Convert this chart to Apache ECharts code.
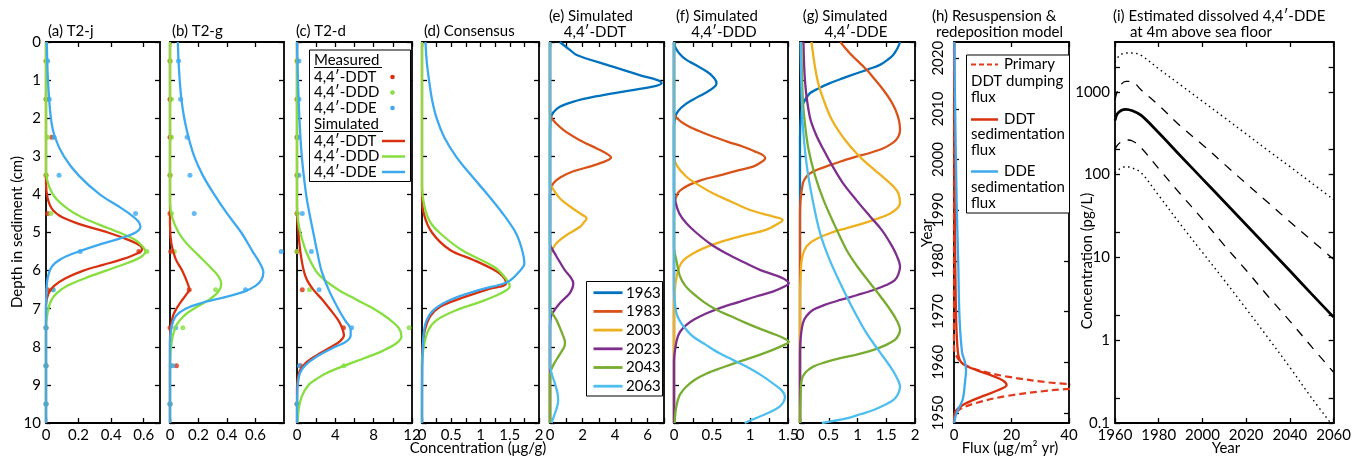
<!DOCTYPE html>
<html>
<head>
<meta charset="utf-8">
<title>DDT sediment profiles</title>
<script src="https://cdn.jsdelivr.net/npm/echarts@6/dist/echarts.min.js"></script>
<style>
html, body { margin: 0; padding: 0; background: #fff; }
#main { width: 1354px; height: 458px; }
</style>
</head>
<body>
<div id="main"></div>
<script>
// ---- tick values ----
var depthTicks = [0, 1, 2, 3, 4, 5, 6, 7, 8, 9, 10];
var ticksA = [0, 0.2, 0.4, 0.6], labelsA = [0, 0.2, 0.4, 0.6];
var ticksB = [0, 0.2, 0.4, 0.6], labelsB = [0, 0.2, 0.4, 0.6];
var ticksC = [0, 2, 4, 6, 8, 10, 12], labelsC = [0, 4, 8, 12];
var ticksD = [0, 0.25, 0.5, 0.75, 1, 1.25, 1.5, 1.75, 2], labelsD = [0, 0.5, 1, 1.5, 2];
var ticksE = [0, 1, 2, 3, 4, 5, 6, 7], labelsE = [0, 2, 4, 6];
var ticksF = [0, 0.25, 0.5, 0.75, 1, 1.25, 1.5], labelsF = [0, 0.5, 1, 1.5];
var ticksG = [0, 0.5, 1, 1.5, 2], labelsG = [0, 0.5, 1, 1.5, 2];
var ticksH = [0, 20, 40], labelsH = [0, 20, 40];
var yearTicksH = [1950, 1960, 1970, 1980, 1990, 2000, 2010, 2020];
var yearTicksI = [1960, 1980, 2000, 2020, 2040, 2060];
var concTicksI = [0.1, 0.2, 1, 2, 10, 20, 100, 200, 1000, 2000];
var concLabelsI = [0.1, 1, 10, 100, 1000];

// ---- measured profiles (depth midpoints, ug/g) ----
var measDepth = [0.5, 1.5, 2.5, 3.5, 4.5, 5.5, 6.5, 7.5, 8.5, 9.5];
var measA_DDT = [0, 0, 0.035, 0, 0.01, 0.57, 0.01, 0, 0, 0];
var measA_DDD = [0, 0, 0.01, 0, 0.03, 0.62, 0.04, 0, 0, 0];
var measA_DDE = [0.01, 0.02, 0.05, 0.08, 0.55, 0.21, 0.045, 0, 0, 0];
var measB_DDT = [0, 0, 0, 0, 0, 0.005, 0.135, 0, 0.045, 0];
var measB_DDD = [0, 0.01, 0.01, 0, 0.01, 0.03, 0.32, 0.09, 0.01, 0];
var measB_DDE = [0.06, 0.075, 0.12, 0.14, 0.17, 0.78, 0.53, 0.04, 0.02, 0];
var measC_DDT = [0, 0, 0, 0, 0, 0, 0.55, 4.85, 0.35, 0];
var measC_DDD = [0, 0, 0, 0, 0, 0, 1.3, 11.7, 4.9, 0];
var measC_DDE = [0.2, 0.2, 0.1, 0.2, 0.55, 1.5, 2.3, 5.7, 0.25, 0];

// ---- simulated profiles [depth cm, conc ug/g] ----
var simA_DDT = [[0,0],[3.7,0],[4.1,0.01],[4.4,0.04],[4.6,0.1],[4.8,0.22],[5.0,0.38],[5.2,0.51],[5.35,0.58],[5.45,0.59],[5.55,0.56],[5.7,0.47],[5.85,0.35],[6.0,0.23],[6.2,0.12],[6.4,0.05],[6.6,0.015],[6.9,0],[10,0]];
var simA_DDD = [[0,0],[3.4,0],[3.8,0.02],[4.1,0.06],[4.4,0.14],[4.6,0.22],[4.8,0.33],[5.0,0.45],[5.2,0.55],[5.4,0.6],[5.5,0.61],[5.65,0.58],[5.8,0.5],[6.0,0.37],[6.2,0.24],[6.4,0.13],[6.6,0.065],[6.8,0.03],[7.1,0.01],[7.5,0],[10,0]];
var simA_DDE = [[0,0.005],[1,0.012],[2,0.03],[2.5,0.055],[3,0.11],[3.5,0.2],[4,0.33],[4.3,0.44],[4.5,0.51],[4.7,0.565],[4.85,0.58],[5.0,0.55],[5.15,0.46],[5.3,0.34],[5.5,0.2],[5.7,0.09],[5.9,0.035],[6.2,0.01],[6.6,0.002],[7,0],[10,0]];
var simB_DDT = [[0,0],[4.8,0],[5.3,0.01],[5.7,0.04],[6.0,0.085],[6.3,0.12],[6.5,0.135],[6.6,0.12],[6.8,0.08],[7.0,0.045],[7.2,0.02],[7.5,0.005],[7.8,0],[10,0]];
var simB_DDD = [[0,0],[4.2,0],[4.6,0.015],[5.0,0.06],[5.3,0.12],[5.6,0.2],[5.9,0.28],[6.15,0.34],[6.35,0.36],[6.55,0.34],[6.75,0.28],[6.95,0.19],[7.15,0.11],[7.4,0.05],[7.7,0.02],[8.1,0.005],[8.5,0],[10,0]];
var simB_DDE = [[0,0.055],[0.5,0.06],[1,0.068],[1.5,0.08],[2,0.1],[2.5,0.13],[3,0.17],[3.5,0.23],[4,0.31],[4.5,0.4],[5,0.5],[5.5,0.58],[5.8,0.63],[6.05,0.655],[6.25,0.64],[6.4,0.6],[6.55,0.52],[6.7,0.38],[6.85,0.22],[7.0,0.11],[7.2,0.04],[7.5,0.01],[8,0],[10,0]];
var simC_DDT = [[0,0],[4.5,0],[5.0,0.15],[5.5,0.35],[6.0,0.7],[6.25,1.05],[6.5,1.7],[6.75,2.6],[7.0,3.4],[7.3,4.3],[7.5,4.7],[7.7,4.9],[7.85,4.5],[8.0,3.6],[8.2,2.2],[8.4,1.0],[8.6,0.35],[8.8,0.1],[9.1,0],[10,0]];
var simC_DDD = [[0,0],[4.3,0],[4.7,0.12],[5.0,0.35],[5.5,0.95],[6.0,1.95],[6.25,2.9],[6.5,4.3],[6.75,6.1],[7.0,8.0],[7.25,9.5],[7.5,10.6],[7.72,10.9],[7.9,10.4],[8.1,9.0],[8.3,7.0],[8.5,4.9],[8.7,3.0],[8.85,2.0],[9.0,1.2],[9.3,0.5],[9.6,0.2],[10,0.05]];
var simC_DDE = [[0,0],[1,0.1],[2,0.25],[3,0.5],[4,0.95],[4.5,1.3],[5,1.7],[5.5,2.1],[6,2.55],[6.5,3.3],[7,4.3],[7.3,5.0],[7.55,5.6],[7.7,5.6],[7.85,5.2],[8.0,4.0],[8.15,2.8],[8.3,1.8],[8.5,0.8],[8.7,0.3],[9.0,0.08],[9.4,0.02],[10,0]];
var simD_DDT = [[0,0],[4.0,0],[4.5,0.03],[5.0,0.17],[5.46,0.48],[5.72,0.88],[5.98,1.23],[6.15,1.38],[6.33,1.44],[6.5,1.11],[6.73,0.66],[6.95,0.31],[7.2,0.14],[7.56,0.05],[8.0,0.01],[8.5,0],[10,0]];
var simD_DDD = [[0,0],[3.8,0],[4.3,0.04],[4.7,0.13],[5.02,0.31],[5.46,0.68],[5.9,1.23],[6.2,1.43],[6.42,1.5],[6.6,1.34],[6.82,1.0],[7.03,0.6],[7.3,0.25],[7.56,0.11],[8.0,0.03],[8.5,0],[10,0]];
var simD_DDE = [[0,0.06],[0.5,0.08],[1,0.12],[1.5,0.17],[2,0.25],[2.5,0.38],[3,0.58],[3.5,0.84],[4,1.12],[4.5,1.38],[5,1.6],[5.4,1.7],[5.81,1.75],[6.03,1.66],[6.3,1.46],[6.5,1.0],[6.77,0.48],[7.03,0.2],[7.3,0.08],[7.65,0.03],[8.5,0.005],[10,0]];

// ---- simulated future profiles, 4,4'-DDT (e), DDD (f), DDE (g) ----
var years = ['1963', '1983', '2003', '2023', '2043', '2063'];
var e1963 = [[0,0.6],[0.2,1.2],[0.34,1.64],[0.6,3.5],[0.87,5.5],[1.0,6.6],[1.08,6.85],[1.17,6.3],[1.3,4.5],[1.43,2.8],[1.57,1.4],[1.7,0.6],[1.85,0.2],[2.0,0.05],[2.3,0],[10,0]];
var e1983 = [[0,0],[1.8,0],[2.0,0.1],[2.3,0.8],[2.57,1.8],[2.8,2.9],[2.95,3.55],[3.03,3.75],[3.12,3.45],[3.25,2.6],[3.4,1.4],[3.55,0.65],[3.7,0.22],[3.85,0.05],[4.0,0],[10,0]];
var e2003 = [[0,0],[3.7,0],[3.8,0.1],[4.1,0.6],[4.37,1.4],[4.54,2.0],[4.63,2.25],[4.75,2.05],[4.85,1.85],[5.07,1.0],[5.2,0.6],[5.33,0.3],[5.55,0.05],[5.7,0],[10,0]];
var e2023 = [[0,0],[5.3,0],[5.37,0.05],[5.63,0.4],[5.98,0.9],[6.2,1.3],[6.33,1.43],[6.45,1.38],[6.6,1.2],[6.86,0.6],[7.12,0.15],[7.3,0.02],[7.5,0],[10,0]];
var e2043 = [[0,0],[7.0,0],[7.05,0.05],[7.3,0.4],[7.6,0.7],[7.8,0.88],[7.9,0.92],[8.0,0.88],[8.2,0.6],[8.48,0.2],[8.65,0.04],[8.8,0],[10,0]];
var e2063 = [[0,0],[8.5,0],[8.7,0.1],[8.96,0.3],[9.2,0.45],[9.4,0.5],[9.55,0.45],[9.75,0.3],[10,0.1]];
var f1963 = [[0,0],[0.15,0.02],[0.3,0.07],[0.45,0.15],[0.6,0.28],[0.8,0.45],[0.95,0.53],[1.08,0.56],[1.2,0.52],[1.35,0.4],[1.5,0.26],[1.65,0.14],[1.8,0.06],[1.95,0.02],[2.2,0],[10,0]];
var f1983 = [[0,0],[1.85,0],[2.0,0.04],[2.18,0.16],[2.33,0.32],[2.48,0.51],[2.62,0.71],[2.75,0.91],[2.87,1.06],[2.97,1.17],[3.05,1.2],[3.15,1.15],[3.27,1.04],[3.38,0.82],[3.5,0.6],[3.62,0.37],[3.75,0.2],[3.87,0.1],[3.97,0.05],[4.2,0.01],[4.5,0],[10,0]];
var f2003 = [[0,0],[3.0,0],[3.25,0.04],[3.53,0.16],[3.75,0.32],[3.97,0.51],[4.17,0.73],[4.37,0.95],[4.5,1.15],[4.58,1.3],[4.67,1.43],[4.78,1.36],[4.93,1.21],[5.07,0.93],[5.2,0.69],[5.37,0.44],[5.55,0.25],[5.72,0.13],[5.9,0.07],[6.33,0.02],[7,0],[10,0]];
var f2023 = [[0,0],[3.9,0],[4.2,0.02],[4.5,0.07],[4.75,0.16],[5.0,0.29],[5.3,0.48],[5.55,0.69],[5.78,0.92],[5.98,1.13],[6.1,1.3],[6.2,1.43],[6.33,1.51],[6.43,1.44],[6.55,1.3],[6.68,1.08],[6.82,0.86],[6.97,0.62],[7.12,0.43],[7.28,0.27],[7.43,0.16],[7.58,0.09],[7.73,0.05],[8.0,0.02],[8.4,0],[10,0]];
var f2043 = [[0,0],[5.4,0],[5.72,0.03],[6.16,0.08],[6.4,0.15],[6.6,0.25],[6.82,0.39],[7.03,0.56],[7.2,0.75],[7.38,0.95],[7.55,1.16],[7.69,1.35],[7.8,1.47],[7.87,1.51],[7.95,1.45],[8.08,1.3],[8.25,1.07],[8.39,0.86],[8.55,0.63],[8.7,0.43],[8.87,0.27],[9.05,0.16],[9.25,0.08],[9.4,0.05],[9.7,0.02],[10,0.01]];
var f2063 = [[0,0],[6.5,0],[6.8,0.01],[7.1,0.03],[7.3,0.07],[7.5,0.14],[7.73,0.25],[7.95,0.42],[8.17,0.6],[8.35,0.78],[8.52,0.95],[8.75,1.15],[8.96,1.3],[9.15,1.42],[9.31,1.46],[9.45,1.44],[9.57,1.39],[9.7,1.28],[9.83,1.13],[10,0.93]];
var g1963 = [[0,1.74],[0.15,1.7],[0.34,1.62],[0.47,1.52],[0.6,1.39],[0.71,1.2],[0.82,0.99],[0.95,0.75],[1.08,0.52],[1.22,0.32],[1.35,0.17],[1.6,0.06],[1.9,0.02],[2.5,0],[10,0]];
var g1983 = [[0,0.7],[0.3,0.87],[0.73,1.16],[1.0,1.31],[1.26,1.45],[1.52,1.57],[1.78,1.66],[2.05,1.72],[2.31,1.74],[2.45,1.72],[2.57,1.67],[2.68,1.58],[2.79,1.45],[2.9,1.24],[3.0,0.99],[3.12,0.74],[3.23,0.52],[3.34,0.32],[3.45,0.17],[3.58,0.09],[3.71,0.05],[4.15,0.01],[4.6,0],[10,0]];
var g2003 = [[0,0.2],[0.65,0.26],[1.1,0.32],[1.52,0.41],[2.0,0.54],[2.4,0.7],[2.75,0.88],[3.1,1.1],[3.36,1.3],[3.62,1.5],[3.8,1.63],[3.97,1.71],[4.23,1.74],[4.38,1.68],[4.5,1.57],[4.63,1.36],[4.76,1.1],[4.89,0.8],[5.02,0.52],[5.15,0.31],[5.28,0.17],[5.45,0.08],[5.72,0.03],[6.2,0.01],[6.6,0],[10,0]];
var g2023 = [[0,0.06],[1.08,0.09],[1.96,0.17],[2.4,0.27],[2.83,0.41],[3.27,0.57],[3.71,0.75],[4.15,0.98],[4.58,1.22],[4.93,1.42],[5.28,1.57],[5.6,1.68],[5.9,1.74],[6.1,1.71],[6.25,1.65],[6.38,1.5],[6.51,1.28],[6.64,1.0],[6.77,0.7],[6.9,0.43],[7.03,0.23],[7.2,0.11],[7.38,0.05],[7.8,0.01],[8.3,0],[10,0]];
var g2043 = [[0,0.02],[1.52,0.05],[2.2,0.09],[2.83,0.15],[3.5,0.26],[4.15,0.41],[4.8,0.6],[5.46,0.81],[5.9,1.0],[6.33,1.22],[6.7,1.41],[7.03,1.57],[7.3,1.68],[7.56,1.74],[7.7,1.71],[7.82,1.65],[7.95,1.5],[8.08,1.28],[8.2,1.0],[8.3,0.7],[8.41,0.43],[8.52,0.23],[8.68,0.09],[8.87,0.03],[9.3,0.01],[10,0]];
var g2063 = [[0,0.01],[1.52,0.03],[2.4,0.06],[3.27,0.12],[4.15,0.22],[5.02,0.35],[5.7,0.51],[6.33,0.7],[7.0,0.92],[7.65,1.16],[8.1,1.37],[8.52,1.57],[8.8,1.68],[9.05,1.74],[9.25,1.7],[9.4,1.62],[9.53,1.47],[9.66,1.28],[9.77,1.05],[9.88,0.81],[10,0.38]];

// ---- (h) fluxes [year, ug/m2 yr] ----
var hDumping = [[1948,0],[1949.4,0.3],[1950.7,2],[1952,8],[1953.3,18],[1954.4,33],[1955.2,48],[1956.0,33],[1957.2,18],[1958.2,10],[1959,5.6],[1960,2.5],[1961.7,0.4],[1963,0],[2023.2,0]];
var hDDTsed = [[1948,0],[1950,0.3],[1951.6,3.2],[1953.3,10],[1954.5,15.5],[1955.5,18.3],[1956.4,17],[1957.4,13],[1958.4,8],[1959.2,4.5],[1960,2.5],[1961.4,1.5],[1966,0.9],[1972.5,0.6],[1985,0.35],[2000,0.2],[2023.2,0.1]];
var hDDEsed = [[1948,0],[1950,0.9],[1952.6,3.0],[1955.9,3.8],[1958.5,4.2],[1960,3.8],[1962,2.8],[1969,1.9],[1979,1.5],[1992,0.9],[2012,0.35],[2023.2,0.1]];

// ---- (i) dissolved DDE, pg/L ----
var iYears     = [1960, 1961, 1963, 1965, 1968, 1972, 1980, 1990, 2000, 2010, 2020, 2030, 2040, 2050, 2060];
var iMedian    = [450, 540, 600, 615, 590, 520, 320, 168, 89, 47, 24.8, 13.1, 6.9, 3.6, 1.9];
var iUpper68   = [800, 1000, 1250, 1340, 1320, 1050, 690, 385, 230, 134, 78, 46, 27, 16, 9.5];
var iLower68   = [200, 225, 250, 262, 255, 210, 118, 58, 29, 14, 7, 3.4, 1.7, 0.83, 0.41];
var iUpper95   = [2300, 2550, 2850, 2950, 2950, 2750, 1900, 1210, 770, 490, 310, 196, 125, 79, 50];
var iLower95   = [105, 112, 120, 125, 120, 105, 56, 25, 11.5, 5.3, 2.4, 1.07, 0.47, 0.2, 0.09];

var FONT = 'Lato, "Noto Sans", sans-serif';
var FS = 15;
var RED = '#D9310F', GREEN = '#86DE3F', BLUE = '#3DA9EF';
var YEAR_COLORS = ['#0072BD', '#D95319', '#EDB120', '#7E2F8E', '#77AC30', '#4DBEEE'];

var chart = echarts.init(document.getElementById('main'));

var panels = [
  { left: 46,   width: 114, x: [0, 0.7],   ticks: ticksA, labels: labelsA },
  { left: 170,  width: 114, x: [0, 0.8],   ticks: ticksB, labels: labelsB },
  { left: 297,  width: 115, x: [0, 12],    ticks: ticksC, labels: labelsC },
  { left: 422,  width: 117, x: [0, 2],     ticks: ticksD, labels: labelsD },
  { left: 550,  width: 114, x: [0, 7],     ticks: ticksE, labels: labelsE },
  { left: 674,  width: 114, x: [0, 1.5],   ticks: ticksF, labels: labelsF },
  { left: 800,  width: 115, x: [0, 2],     ticks: ticksG, labels: labelsG },
  { left: 954,  width: 115, x: [0, 40],    ticks: ticksH, labels: labelsH },
  { left: 1115, width: 225, x: [1960, 2060], ticks: yearTicksI, labels: yearTicksI }
];

function fmt(v) { return String(+(+v).toFixed(3)); }

var grids = [], xAxes = [], yAxes = [];
panels.forEach(function (p, i) {
  grids.push({ left: p.left, top: 42, width: p.width, height: 381, show: false });
  ['bottom', 'top'].forEach(function (pos) {
    xAxes.push({
      gridIndex: i, type: 'value', position: pos, min: p.x[0], max: p.x[1],
      axisLine: { show: true, onZero: false, lineStyle: { color: '#000', width: 1.8 } },
      axisTick: { show: true, inside: true, length: 5, customValues: p.ticks, lineStyle: { color: '#000', width: 1.3 } },
      axisLabel: { show: pos === 'bottom', customValues: p.labels, margin: 5, color: '#000',
                   fontFamily: FONT, fontSize: FS, formatter: fmt },
      splitLine: { show: false }
    });
  });
  ['left', 'right'].forEach(function (pos) {
    var y;
    if (i < 7) {
      y = { min: 0, max: 10, inverse: true, ticks: depthTicks, labels: depthTicks, type: 'value' };
    } else if (i === 7) {
      y = { min: 1948, max: 2023.2, ticks: yearTicksH, labels: yearTicksH, type: 'value' };
    } else {
      y = { min: 0.1, max: 4000, ticks: concTicksI, labels: concLabelsI, type: 'log' };
    }
    var showLab = pos === 'left' && (i === 0 || i === 7 || i === 8);
    yAxes.push({
      gridIndex: i, type: y.type, position: pos, min: y.min, max: y.max, inverse: !!y.inverse,
      logBase: 10,
      axisLine: { show: true, onZero: false, lineStyle: { color: '#000', width: 1.8 } },
      axisTick: { show: true, inside: true, length: 5, customValues: y.ticks, lineStyle: { color: '#000', width: 1.3 } },
      axisLabel: { show: showLab, customValues: y.labels, margin: i === 7 ? 8 : 5, color: '#000',
                   rotate: i === 7 ? 90 : 0, fontFamily: FONT, fontSize: FS, formatter: fmt },
      splitLine: { show: false }
    });
  });
});

function prof(a) { return a.map(function (p) { return [p[1], p[0]]; }); }
function meas(v) { return v.map(function (c, k) { return [c, measDepth[k]]; }); }

var series = [];
function line(panel, data, color, width, name, dash) {
  series.push({
    type: 'line', name: name, xAxisIndex: panel * 2, yAxisIndex: panel * 2,
    data: data, symbol: 'none', smooth: 0.35, clip: true, animation: false,
    lineStyle: { color: color, width: width, type: dash || 'solid' }, z: 3
  });
}
function dots(panel, data, color) {
  series.push({
    type: 'scatter', xAxisIndex: panel * 2, yAxisIndex: panel * 2, data: data,
    symbolSize: 5, itemStyle: { color: color }, animation: false, z: 2
  });
}

// (a)-(c): measured and simulated
[[measA_DDT, measA_DDD, measA_DDE, simA_DDT, simA_DDD, simA_DDE],
 [measB_DDT, measB_DDD, measB_DDE, simB_DDT, simB_DDD, simB_DDE],
 [measC_DDT, measC_DDD, measC_DDE, simC_DDT, simC_DDD, simC_DDE]].forEach(function (s, i) {
  dots(i, meas(s[0]), RED); dots(i, meas(s[1]), GREEN); dots(i, meas(s[2]), BLUE);
  line(i, prof(s[3]), RED, 2.3, '4,4\u2032-DDT');
  line(i, prof(s[4]), GREEN, 2.3, '4,4\u2032-DDD');
  line(i, prof(s[5]), BLUE, 2.3, '4,4\u2032-DDE');
});
// (d) consensus
line(3, prof(simD_DDT), RED, 2.3, '4,4\u2032-DDT');
line(3, prof(simD_DDD), GREEN, 2.3, '4,4\u2032-DDD');
line(3, prof(simD_DDE), BLUE, 2.3, '4,4\u2032-DDE');
// (e)-(g)
[[e1963, e1983, e2003, e2023, e2043, e2063],
 [f1963, f1983, f2003, f2023, f2043, f2063],
 [g1963, g1983, g2003, g2023, g2043, g2063]].forEach(function (set, k) {
  set.forEach(function (c, j) { line(4 + k, prof(c), YEAR_COLORS[j], 2.3, years[j]); });
});
// (h)
line(7, prof(hDumping), '#E23A1C', 2.2, 'Primary DDT dumping flux', [7, 4]);
line(7, prof(hDDTsed), RED, 2.3, 'DDT sedimentation flux');
line(7, prof(hDDEsed), BLUE, 2.3, 'DDE sedimentation flux');
// (i)
function zipI(v) { return v.map(function (c, k) { return [iYears[k], c]; }); }
line(8, zipI(iUpper95), '#000', 1.4, 'upper 95', [1.5, 3.5]);
line(8, zipI(iLower95), '#000', 1.4, 'lower 95', [1.5, 3.5]);
line(8, zipI(iUpper68), '#000', 1.3, 'upper 68', [9, 8]);
line(8, zipI(iLower68), '#000', 1.3, 'lower 68', [9, 8]);
line(8, zipI(iMedian), '#000', 2.7, 'median');

// ---- text and legend boxes ----
function txt(s, x, y, align, rot, size) {
  return { type: 'text', x: x, y: y, rotation: rot || 0, z: 100,
    style: { text: s, fill: '#000', font: (size || FS) + 'px ' + FONT,
             textAlign: align || 'left', textVerticalAlign: 'middle' } };
}
function seg(x1, y1, x2, y2, color, w, dash) {
  return { type: 'line', z: 100, shape: { x1: x1, y1: y1, x2: x2, y2: y2 },
    style: { stroke: color, lineWidth: w, lineDash: dash || null } };
}
function box(x, y, w, h) {
  return { type: 'rect', z: 99, shape: { x: x, y: y, width: w, height: h },
    style: { fill: '#fff', stroke: '#000', lineWidth: 1 } };
}
function dot(x, y, color) {
  return { type: 'circle', z: 100, shape: { cx: x, cy: y, r: 2.3 }, style: { fill: color } };
}

var g = [
  txt('(a) T2-j', 48, 31), txt('(b) T2-g', 172, 31), txt('(c) T2-d', 296, 31),
  txt('(d) Consensus', 424, 31),
  txt('(e) Simulated', 591, 16, 'center'), txt('4,4\u2032-DDT', 595, 32, 'center'),
  txt('(f) Simulated', 717, 16, 'center'), txt('4,4\u2032-DDD', 724, 32, 'center'),
  txt('(g) Simulated', 845, 16, 'center'), txt('4,4\u2032-DDE', 856, 32, 'center'),
  txt('(h) Resuspension &', 932, 16), txt('redeposition model', 936, 32),
  txt('(i) Estimated dissolved 4,4\u2032-DDE', 1113, 16), txt('at 4m above sea floor', 1130, 32),
  txt('Depth in sediment (cm)', 17, 232, 'center', Math.PI / 2),
  txt('Concentration (\u03bcg/g)', 478, 448, 'center'),
  txt('Flux (\u03bcg/m\u00b2 yr)', 1010, 448, 'center'),
  txt('Year', 1226, 448, 'center'),
  txt('Year', 927, 233, 'center', Math.PI / 2),
  txt('Concentration (pg/L)', 1087, 261, 'center', Math.PI / 2),

  // legend (c)
  box(309.5, 50, 101, 131.5),
  txt('Measured', 314, 60), seg(314, 67.5, 382, 67.5, '#000', 1),
  txt('4,4\u2032-DDT', 314, 77), dot(392.5, 77, RED),
  txt('4,4\u2032-DDD', 314, 92.5), dot(392.5, 92.5, GREEN),
  txt('4,4\u2032-DDE', 314, 108), dot(392.5, 108, BLUE),
  txt('Simulated', 314, 124), seg(314, 131.5, 383, 131.5, '#000', 1),
  txt('4,4\u2032-DDT', 314, 141), seg(382, 141, 405, 141, RED, 2.5),
  txt('4,4\u2032-DDD', 314, 156.5), seg(382, 156.5, 405, 156.5, GREEN, 2.5),
  txt('4,4\u2032-DDE', 314, 172), seg(382, 172, 405, 172, BLUE, 2.5),

  // legend (h)
  box(966.5, 55, 103, 158),
  seg(971, 64.5, 998, 64.5, '#E23A1C', 2.2, [5, 3]), txt('Primary', 1004, 64.5),
  txt('DDT dumping', 971, 81.5), txt('flux', 971, 97.5),
  seg(971, 119.5, 998, 119.5, RED, 2.5), txt('DDT', 1004, 119.5),
  txt('sedimentation', 971, 134.5), txt('flux', 971, 150.5),
  seg(971, 171.5, 998, 171.5, BLUE, 2.5), txt('DDE', 1004, 171.5),
  txt('sedimentation', 971, 187), txt('flux', 971, 203),

  // legend (e)
  box(586.5, 281.5, 76, 114.5)
];
years.forEach(function (yr, j) {
  var yy = 292.7 + j * 18.7;
  g.push(seg(593.5, yy, 622.5, yy, YEAR_COLORS[j], 2.8));
  g.push(txt(yr, 626, yy));
});

chart.setOption({
  animation: false,
  backgroundColor: '#fff',
  textStyle: { fontFamily: FONT },
  grid: grids,
  xAxis: xAxes,
  yAxis: yAxes,
  series: series,
  graphic: g
});
</script>
</body>
</html>
